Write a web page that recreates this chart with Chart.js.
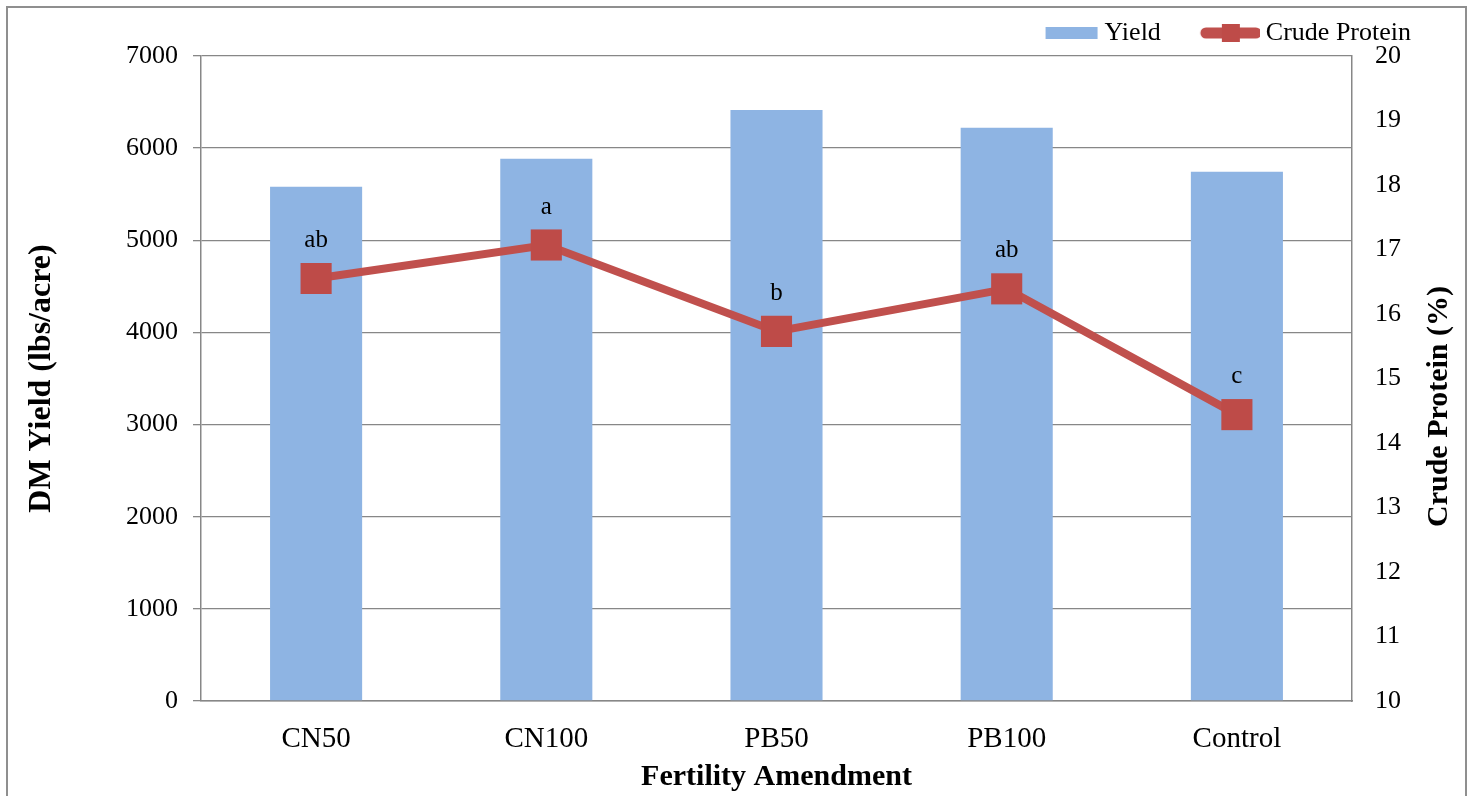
<!DOCTYPE html>
<html>
<head>
<meta charset="utf-8">
<script src="https://cdn.jsdelivr.net/npm/chart.js@4.4.0/dist/chart.umd.min.js"></script>
<style>
  html, body { margin: 0; padding: 0; background: #fff; overflow: hidden; }
  #wrap { position: relative; width: 1471px; height: 796px; }
  #frame { position: absolute; left: 6px; top: 6px; width: 1457px; height: 900px; border: 2px solid #8f8f8f; }
  #c { position: absolute; left: 0; top: 0; }
</style>
</head>
<body>
<div id="wrap">
  <div id="frame"></div>
  <canvas id="c" width="1471" height="796"></canvas>
</div>
<script>
// 데이터
const categories = ['CN50', 'CN100', 'PB50', 'PB100', 'Control'];
const yieldValues = [5580, 5885, 6415, 6220, 5745];
const proteinValues = [16.55, 17.07, 15.73, 16.39, 14.44];
const letters = ['ab', 'a', 'b', 'ab', 'c'];
const leftTicks = [0, 7000, 1000];   // min, max, step
const rightTicks = [10, 20, 1];

const BAR = '#8EB4E3';
const RED = '#C0504D';
const GRID = '#878787';
const FONT = 'Liberation Serif';

Chart.defaults.font.family = FONT;
Chart.defaults.color = '#000';

// 범례 아이콘 (캔버스 이미지)
function yieldIcon() {
  const c = document.createElement('canvas');
  c.width = 86; c.height = 14;
  const g = c.getContext('2d');
  g.fillStyle = BAR;
  g.fillRect(33, 1, 52, 12);
  return c;
}
function proteinIcon() {
  const c = document.createElement('canvas');
  c.width = 86; c.height = 26;
  const g = c.getContext('2d');
  g.strokeStyle = RED;
  g.lineWidth = 11;
  g.lineCap = 'round';
  g.beginPath();
  g.moveTo(32, 13);
  g.lineTo(82, 13);
  g.stroke();
  g.fillStyle = '#BE4B48';
  g.fillRect(48, 4, 18, 18);
  return c;
}
const icons = [yieldIcon(), proteinIcon()];

// 점 위에 유의성 문자 표시
const letterPlugin = {
  id: 'letters',
  afterDatasetsDraw(chart) {
    const meta = chart.getDatasetMeta(1);
    const ctx = chart.ctx;
    ctx.save();
    ctx.font = '25px ' + FONT;
    ctx.fillStyle = '#000';
    ctx.textAlign = 'center';
    ctx.textBaseline = 'middle';
    meta.data.forEach((pt, i) => {
      ctx.fillText(letters[i], pt.x, pt.y - 38);
    });
    ctx.restore();
  }
};

// 오른쪽 축 제목 (아래에서 위로 읽도록)
const rightTitlePlugin = {
  id: 'rightTitle',
  afterDraw(chart) {
    const area = chart.chartArea;
    const ctx = chart.ctx;
    ctx.save();
    ctx.translate(1439, (area.top + area.bottom) / 2 + 28);
    ctx.rotate(-Math.PI / 2);
    ctx.font = 'bold 30px ' + FONT;
    ctx.fillStyle = '#000';
    ctx.textAlign = 'center';
    ctx.textBaseline = 'middle';
    ctx.fillText('Crude Protein (%)', 0, 0);
    ctx.restore();
  }
};

const ctx = document.getElementById('c').getContext('2d');
const chart = new Chart(ctx, {
  type: 'bar',
  data: {
    labels: categories,
    datasets: [{
      type: 'bar',
      label: 'Yield',
      data: yieldValues,
      backgroundColor: BAR,
      yAxisID: 'y',
      order: 1,
      categoryPercentage: 1,
      barPercentage: 0.4
    }, {
      type: 'line',
      label: 'Crude Protein',
      data: proteinValues,
      borderColor: RED,
      borderWidth: 8,
      backgroundColor: RED,
      pointStyle: 'rect',
      pointRadius: 22,
      pointBackgroundColor: '#BE4B48',
      pointBorderColor: '#BE4B48',
      pointBorderWidth: 0,
      tension: 0,
      yAxisID: 'y1',
      order: 0
    }]
  },
  options: {
    responsive: false,
    devicePixelRatio: 1,
    animation: false,
    layout: { padding: { left: 0, right: 40, top: 0, bottom: 0 } },
    plugins: {
      tooltip: { enabled: false },
      legend: {
        position: 'top',
        align: 'end',
        labels: {
          usePointStyle: true,
          pointStyleWidth: 72,
          padding: 20,
          font: { size: 26 },
          color: '#000',
          generateLabels(chart) {
            const items = Chart.defaults.plugins.legend.labels.generateLabels(chart);
            items.sort((a, b) => a.datasetIndex - b.datasetIndex);
            items.forEach(it => { it.pointStyle = icons[it.datasetIndex]; });
            return items;
          }
        }
      }
    },
    scales: {
      x: {
        grid: { display: false },
        border: { display: true, color: GRID, width: 1.5 },
        ticks: { font: { size: 29 }, padding: 13 },
        title: {
          display: true,
          text: 'Fertility Amendment',
          font: { size: 30, weight: 'bold' },
          padding: { top: 0, bottom: 1 }
        },
        afterFit(scale) { scale.height = 95; }
      },
      y: {
        position: 'left',
        min: leftTicks[0],
        max: leftTicks[1],
        ticks: {
          stepSize: leftTicks[2],
          font: { size: 26 },
          padding: 15,
          callback: v => String(v)
        },
        grid: { color: GRID, lineWidth: 1.3, tickLength: 8 },
        border: { display: true, color: GRID, width: 1.5 },
        title: {
          display: true,
          text: 'DM Yield (lbs/acre)',
          font: { size: 32, weight: 'bold' },
          padding: { top: 23, bottom: 0 }
        },
        afterFit(scale) { scale.width = 201; }
      },
      y1: {
        position: 'right',
        min: rightTicks[0],
        max: rightTicks[1],
        ticks: {
          stepSize: rightTicks[2],
          font: { size: 26 },
          padding: 15,
          callback: v => String(v)
        },
        grid: { display: false },
        border: { display: true, color: GRID, width: 1.5 },
        afterFit(scale) { scale.width = 79; }
      }
    }
  },
  plugins: [letterPlugin, rightTitlePlugin]
});
</script>
</body>
</html>
